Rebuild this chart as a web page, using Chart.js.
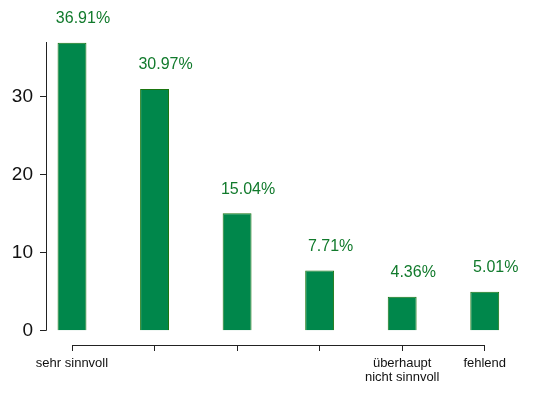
<!DOCTYPE html>
<html lang="de">
  <head>
    <meta charset="UTF-8" />
    <title>Bewertung</title>
    <script src="https://cdn.jsdelivr.net/npm/chart.js"></script>
    <style>
      html, body {
        margin: 0;
        padding: 0;
        background: white;
      }
      #wrap {
        width: 535px;
        height: 396px;
      }
    </style>
  </head>
  <body>
    <div id="wrap"><canvas id="chart"></canvas></div>

    <script>
      const categories = [
        "sehr sinnvoll",
        "eher sinnvoll",
        "teils/teils",
        "eher nicht sinnvoll",
        "überhaupt nicht sinnvoll",
        "fehlend",
      ];
      const tickLabels = [
        "sehr sinnvoll",
        "",
        "",
        "",
        ["überhaupt", "nicht sinnvoll"],
        "fehlend",
      ];
      const percents = [36.91, 30.97, 15.04, 7.71, 4.36, 5.01];
      const yTicks = [0, 10, 20, 30];

      const FONT = "'Liberation Sans', Arial, Helvetica, sans-serif";
      const barFill = "#00874b";
      const barEdge = "#1a7510";
      const labelGreen = "#117a2c";
      const axisColor = "#222";

      // axis lines only span the data range, like the original
      const axisLines = {
        id: "axisLines",
        afterDraw(chart) {
          const { ctx, chartArea, scales } = chart;
          const x = scales.x, y = scales.y;
          ctx.save();
          ctx.strokeStyle = axisColor;
          ctx.lineWidth = 1;
          ctx.beginPath();
          ctx.moveTo(chartArea.left + 0.5, y.getPixelForValue(0));
          ctx.lineTo(chartArea.left + 0.5, y.getPixelForValue(y.max));
          ctx.moveTo(x.getPixelForValue(0), chartArea.bottom + 0.5);
          ctx.lineTo(x.getPixelForValue(categories.length - 1), chartArea.bottom + 0.5);
          ctx.stroke();

          // percentage labels above the bars (sit a bit right of centre)
          const meta = chart.getDatasetMeta(0);
          ctx.fillStyle = labelGreen;
          ctx.font = "16px " + FONT;
          ctx.textAlign = "center";
          ctx.textBaseline = "middle";
          meta.data.forEach((bar, i) => {
            ctx.fillText(percents[i].toFixed(2) + "%", bar.x + 11, bar.y - 24);
          });
          ctx.restore();
        },
      };

      new Chart(document.getElementById("chart"), {
        type: "bar",
        data: {
          datasets: [
            {
              label: "Anteil",
              data: percents.map((v, i) => ({ x: i, y: v })),
              backgroundColor: barFill,
              borderColor: barEdge,
              borderWidth: 1,
              categoryPercentage: 1,
              barPercentage: 0.35,
            },
          ],
        },
        options: {
          responsive: true,
          maintainAspectRatio: false,
          animation: false,
          layout: { padding: { top: 42, right: 9, left: 0, bottom: 0 } },
          plugins: {
            legend: { display: false },
            tooltip: { enabled: false },
          },
          scales: {
            x: {
              type: "linear",
              offset: false,
              min: -0.315,
              max: 5.5,
              afterBuildTicks: (s) => {
                s.ticks = categories.map((c, i) => ({ value: i }));
              },
              afterFit: (s) => {
                s.height = 51;
              },
              border: { display: false },
              grid: {
                offset: false,
                drawOnChartArea: false,
                drawTicks: true,
                tickLength: 6,
                color: axisColor,
              },
              ticks: {
                autoSkip: false,
                maxRotation: 0,
                padding: 5,
                color: "#111",
                font: { family: FONT, size: 13, lineHeight: 1.1 },
                callback: (value) => tickLabels[value],
              },
            },
            y: {
              min: -1.83,
              max: 37,
              afterBuildTicks: (s) => {
                s.ticks = yTicks.map((v) => ({ value: v }));
              },
              afterFit: (s) => {
                s.width = 46;
              },
              border: { display: false },
              grid: {
                drawOnChartArea: false,
                drawTicks: true,
                tickLength: 6,
                color: axisColor,
              },
              ticks: {
                padding: 7,
                color: "#111",
                font: { family: FONT, size: 19 },
              },
            },
          },
        },
        plugins: [axisLines],
      });
    </script>
  </body>
</html>
